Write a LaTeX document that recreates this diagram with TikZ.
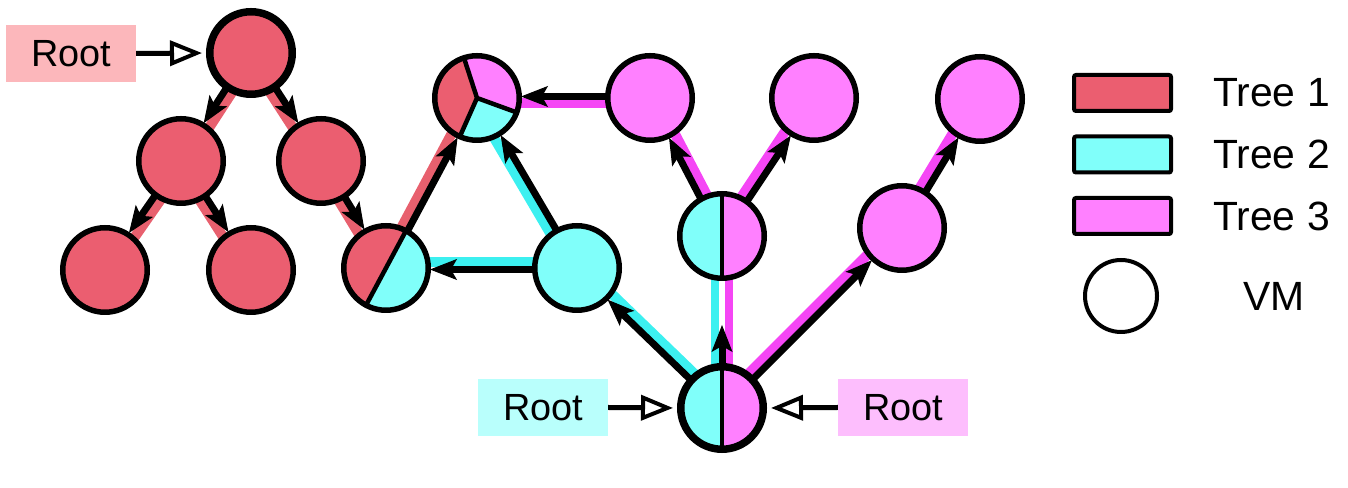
\documentclass[tikz,border=0pt]{standalone}
\usepackage{fontspec}
\setmainfont{Liberation Sans}
\usetikzlibrary{arrows.meta,calc}
\pgfdeclarelayer{bg}
\pgfsetlayers{bg,main}
\definecolor{tred}{RGB}{235,94,112}
\definecolor{tcyan}{RGB}{128,255,250}
\definecolor{tmag}{RGB}{255,128,255}
\definecolor{tredb}{RGB}{232,96,110}
\definecolor{tcyanb}{RGB}{60,240,240}
\definecolor{tmagb}{RGB}{245,70,245}
\definecolor{lred}{RGB}{252,183,187}
\definecolor{lcyan}{RGB}{185,255,252}
\definecolor{lmag}{RGB}{253,190,253}
\newcommand\edgeL[3]{%
  \draw[band,draw=#3] ($(#1)!5.5bp!90:(#2)$) -- ($(#2)!5.5bp!-90:(#1)$);
  \draw[arr] ($(#1)!1.5bp!-90:(#2)$) -- ($(#2)!1.5bp!90:(#1)$);
}
\newcommand\edgeR[3]{%
  \draw[band,draw=#3] ($(#1)!5.5bp!-90:(#2)$) -- ($(#2)!5.5bp!90:(#1)$);
  \draw[arr] ($(#1)!1.5bp!90:(#2)$) -- ($(#2)!1.5bp!-90:(#1)$);
}
\begin{document}
\begin{tikzpicture}[x=1bp,y=1bp,
  vm/.style={circle, draw=black, line width=5.5bp, minimum size=84.5bp, inner sep=0pt},
  vmroot/.style={vm, line width=7.5bp, minimum size=82.5bp},
  band/.style={line width=10bp},
  arr/.style={draw=black, line width=7bp, -{Stealth[length=27bp,width=21bp,inset=6bp,line width=1bp]}, shorten >=44bp},
  rootarr/.style={draw=black, line width=5bp, -{Triangle[open,length=32bp,width=25bp,line width=4bp]}, shorten >=4bp},
  rootlbl/.style={minimum width=130bp, minimum height=57bp, inner sep=0pt, font=\fontsize{38}{42}\selectfont},
  legbox/.style={draw=black, line width=4bp, rounded corners=2bp, minimum width=97bp, minimum height=36bp, inner sep=0pt},
  legtxt/.style={font=\fontsize{41}{45}\selectfont, inner sep=0pt},
  splitv/.style={path picture={
    \coordinate (pc) at (path picture bounding box.center);
    \fill[tcyan] (pc) -- ++(90:60) arc[start angle=90,end angle=270,radius=60] -- cycle;
    \fill[tmag] (pc) -- ++(-90:60) arc[start angle=-90,end angle=90,radius=60] -- cycle;
    \draw[line width=4.5bp] (pc) ++(0,-60) -- ++(0,120);
  }}
]
\useasboundingbox (0,0) rectangle (1348,488);
% red tree
\node[vmroot, fill=tred] (R0) at (251,435) {};
\node[vm, fill=tred] (R1) at (181,327) {};
\node[vm, fill=tred] (R2) at (321,327) {};
\node[vm, fill=tred] (R3) at (105,218) {};
\node[vm, fill=tred] (R4) at (251,218) {};
% shared nodes
\node[vm, path picture={
    \coordinate (pc) at (path picture bounding box.center);
    \fill[tred] (pc) -- ++(61.8:60) arc[start angle=61.8,end angle=241.8,radius=60] -- cycle;
    \fill[tcyan] (pc) -- ++(241.8:60) arc[start angle=241.8,end angle=421.8,radius=60] -- cycle;
    \draw[line width=4.5bp] (pc) ++(61.8:60) -- ++(241.8:120);
  }] (S) at (386,220) {};
\node[vm, path picture={
    \coordinate (pc) at (path picture bounding box.center);
    \fill[tred] (pc) -- ++(108:60) arc[start angle=108,end angle=246,radius=60] -- cycle;
    \fill[tmag] (pc) -- ++(-20:60) arc[start angle=-20,end angle=108,radius=60] -- cycle;
    \fill[tcyan] (pc) -- ++(246:60) arc[start angle=246,end angle=340,radius=60] -- cycle;
    \draw[line width=4.5bp, line join=round] (pc) -- ++(108:60) (pc) -- ++(-20:60) (pc) -- ++(246:60);
  }] (T) at (477,390) {};
\node[vm, fill=tcyan] (C) at (577,220) {};
\node[vm, splitv] (M) at (722,252) {};
\node[vmroot, splitv] (B) at (722,80) {};
% magenta tree
\node[vm, fill=tmag] (P) at (902,260) {};
\node[vm, fill=tmag] (P1) at (650,390) {};
\node[vm, fill=tmag] (P2) at (814,390) {};
\node[vm, fill=tmag] (P3) at (980,389) {};
% root labels
\node[rootlbl, fill=lred] (LR) at (71,434.5) {Root};
\node[rootlbl, fill=lcyan] (LC) at (543,80.5) {Root};
\node[rootlbl, fill=lmag] (LM) at (903,80.5) {Root};
\draw[rootarr] (LR.east) -- (R0.west);
\draw[rootarr] (LC.east) -- (B.west);
\draw[rootarr] (LM.west) -- (B.east);
% legend
\node[legbox, fill=tred] (K1) at (1122.5,395) {};
\node[legbox, fill=tcyan] (K2) at (1122.5,333.5) {};
\node[legbox, fill=tmag] (K3) at (1122.5,272) {};
\node[circle, draw=black, line width=4bp, minimum size=72bp, inner sep=0pt] (K4) at (1121,192) {};
\node[legtxt, anchor=west] (T1) at (1213,395) {Tree 1};
\node[legtxt, anchor=west] (T2) at (1213,333.5) {Tree 2};
\node[legtxt, anchor=west] (T3) at (1213,272) {Tree 3};
\node[legtxt] (T4) at (1274,192) {VM};
% edges
\begin{pgfonlayer}{bg}
\edgeL{R0}{R1}{tredb}
\edgeR{R0}{R2}{tredb}
\edgeL{R1}{R3}{tredb}
\edgeR{R1}{R4}{tredb}
\edgeR{R2}{S}{tredb}
\edgeL{S}{T}{tredb}
\edgeR{B}{C}{tcyanb}
\edgeR{C}{S}{tcyanb}
\edgeL{C}{T}{tcyanb}
\draw[line width=8bp, draw=tcyanb] ($(B)!7bp!90:(M)$) -- ($(M)!7bp!-90:(B)$);
\draw[line width=8bp, draw=tmagb] ($(B)!7bp!-90:(M)$) -- ($(M)!7bp!90:(B)$);
\draw[arr] (B) -- (M);
\edgeL{B}{P}{tmagb}
\edgeR{M}{P1}{tmagb}
\edgeL{M}{P2}{tmagb}
\edgeL{P}{P3}{tmagb}
\edgeL{P1}{T}{tmagb}
\end{pgfonlayer}
\end{tikzpicture}
\end{document}
